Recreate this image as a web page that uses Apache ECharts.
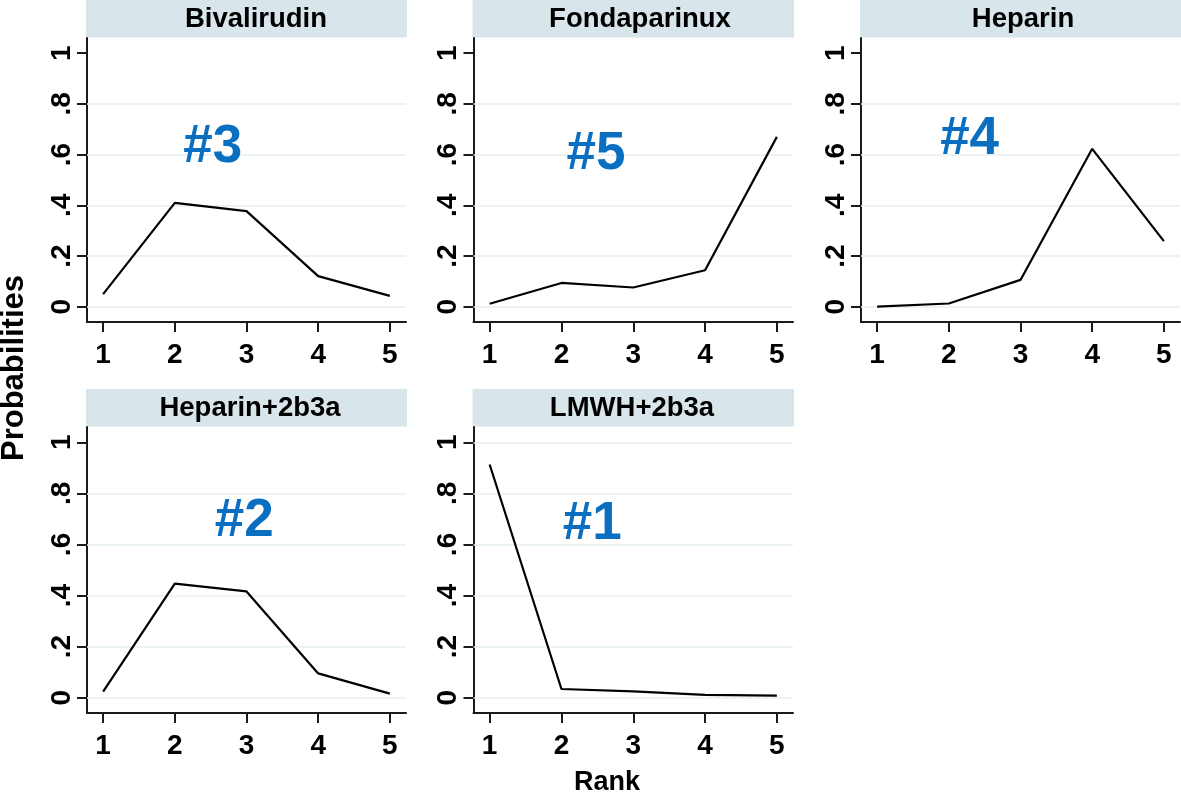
<!DOCTYPE html>
<html>
<head>
<meta charset="utf-8">
<title>Rank probabilities</title>
<script src="https://cdn.jsdelivr.net/npm/echarts@6/dist/echarts.min.js"></script>
<style>
  html, body { margin: 0; padding: 0; background: #ffffff; }
  #chart { width: 1181px; height: 799px; }
</style>
</head>
<body>
<div id="chart"></div>
<script>
// Treatments, one panel each, and the probability of each rank
const treatments = ['Bivalirudin', 'Fondaparinux', 'Heparin', 'Heparin+2b3a', 'LMWH+2b3a'];
const ranks = [1, 2, 3, 4, 5];

const bivalirudin  = [0.050, 0.410, 0.377, 0.121, 0.043];
const fondaparinux = [0.012, 0.094, 0.076, 0.144, 0.670];
const heparin      = [0.001, 0.013, 0.106, 0.623, 0.259];
const heparin2b3a  = [0.024, 0.447, 0.416, 0.095, 0.016];
const lmwh2b3a     = [0.913, 0.034, 0.025, 0.011, 0.008];

// Overall ranking annotation for each treatment and where it sits (rank, probability)
const rankNotes = ['#3', '#5', '#4', '#2', '#1'];
const noteRank  = [2.53, 2.48, 2.29, 2.97, 2.43];
const noteProb  = [0.63, 0.60, 0.66, 0.69, 0.68];

// Axis ticks
const yTicks = [0, 0.2, 0.4, 0.6, 0.8, 1];
const yTickLabels = ['0', '.2', '.4', '.6', '.8', '1'];
const xTicks = [1, 2, 3, 4, 5];

const seriesValues = [bivalirudin, fondaparinux, heparin, heparin2b3a, lmwh2b3a];

// Panel layout (pixels)
const panels = [
  { left: 87,    top: 38,  width: 319,   height: 284, headTop: 0,   titleX: 256 },
  { left: 473.5, top: 38,  width: 319.5, height: 284, headTop: 0,   titleX: 640 },
  { left: 861,   top: 38,  width: 319,   height: 284, headTop: 0,   titleX: 1023 },
  { left: 87,    top: 427, width: 319,   height: 286, headTop: 389, titleX: 250 },
  { left: 473.5, top: 427, width: 319.5, height: 286, headTop: 389, titleX: 632 }
];
// Horizontal reference lines drawn in each panel
const gridLevels = [
  [0, 0.2, 0.4, 0.6, 0.8],
  [0, 0.2, 0.4, 0.6, 0.8],
  [0, 0.2, 0.4, 0.6, 0.8],
  [0, 0.2, 0.4, 0.6, 0.8],
  [0, 0.2, 0.4, 0.6, 0.8, 1]
];

const FONT = '"Liberation Sans", Arial, Helvetica, sans-serif';
const AXIS_COLOR = '#1a1a1a';
const GRID_COLOR = '#e6eff1';
const HEAD_FILL = '#d8e5eb';
const NOTE_COLOR = '#0a6fc0';

const grids = [], xAxes = [], yAxes = [], series = [], graphics = [];

panels.forEach((p, i) => {
  grids.push({ left: p.left, top: p.top, width: p.width, height: p.height, containLabel: false });

  xAxes.push({
    type: 'value', gridIndex: i, min: 0.775, max: 5.225,
    axisLine: { show: true, onZero: false, lineStyle: { color: AXIS_COLOR, width: 2 } },
    axisTick: { show: true, length: 10, customValues: xTicks, lineStyle: { color: AXIS_COLOR, width: 2 } },
    axisLabel: {
      show: true, customValues: xTicks, margin: 19,
      color: '#000', fontSize: 28, fontWeight: 'bold', fontFamily: FONT,
      formatter: v => String(v)
    },
    splitLine: { show: false }
  });

  yAxes.push({
    type: 'value', gridIndex: i, min: -0.06, max: 1.06,
    axisLine: { show: true, onZero: false, lineStyle: { color: AXIS_COLOR, width: 2 } },
    axisTick: { show: true, length: 10, customValues: yTicks, lineStyle: { color: AXIS_COLOR, width: 2 } },
    axisLabel: {
      show: true, customValues: yTicks, rotate: 90, margin: 11,
      color: '#000', fontSize: 28, fontWeight: 'bold', fontFamily: FONT,
      formatter: v => {
        const k = yTicks.findIndex(t => Math.abs(t - v) < 1e-9);
        return k >= 0 ? yTickLabels[k] : '';
      }
    },
    splitLine: { show: false }
  });

  // reference lines
  series.push({
    type: 'line', xAxisIndex: i, yAxisIndex: i, data: [], silent: true, z: 1,
    markLine: {
      silent: true, symbol: 'none', z: 1, animation: false,
      label: { show: false },
      lineStyle: { color: GRID_COLOR, width: 1.5, type: 'solid' },
      data: gridLevels[i].map(v => ({ yAxis: v }))
    }
  });

  // rank probability curve
  series.push({
    type: 'line', xAxisIndex: i, yAxisIndex: i, z: 10,
    data: ranks.map((r, k) => [r, seriesValues[i][k]]),
    showSymbol: false, symbol: 'none',
    lineStyle: { color: '#000', width: 2.2 },
    silent: true
  });

  // overall ranking annotation
  series.push({
    type: 'scatter', xAxisIndex: i, yAxisIndex: i, z: 11,
    data: [[noteRank[i], noteProb[i]]],
    symbol: 'rect', symbolSize: 1,
    itemStyle: { color: 'rgba(0,0,0,0)', opacity: 1 },
    label: {
      show: true, position: 'inside', formatter: rankNotes[i],
      color: NOTE_COLOR, fontSize: 53, fontWeight: 'bold', fontFamily: FONT, opacity: 1
    },
    silent: true
  });

  // panel header strip and title
  graphics.push({
    type: 'rect', silent: true, z: 0,
    shape: { x: p.left - 1, y: p.headTop, width: p.width + 2, height: 37.5 },
    style: { fill: HEAD_FILL }
  });
  graphics.push({
    type: 'text', silent: true, z: 1,
    x: p.titleX, y: p.headTop + 19.5,
    style: {
      text: treatments[i], fill: '#000', align: 'center', verticalAlign: 'middle',
      font: 'bold 27.5px ' + FONT
    }
  });
});

// shared axis titles
graphics.push({
  type: 'text', silent: true,
  x: 14, y: 368, rotation: Math.PI / 2,
  style: { text: 'Probabilities', fill: '#000', align: 'center', verticalAlign: 'middle', font: 'bold 31px ' + FONT }
});
graphics.push({
  type: 'text', silent: true,
  x: 607, y: 783,
  style: { text: 'Rank', fill: '#000', align: 'center', verticalAlign: 'middle', font: 'bold 27px ' + FONT }
});

const chart = echarts.init(document.getElementById('chart'), null, { renderer: 'canvas' });
chart.setOption({
  backgroundColor: '#ffffff',
  animation: false,
  grid: grids,
  xAxis: xAxes,
  yAxis: yAxes,
  series: series,
  graphic: graphics
});
</script>
</body>
</html>
